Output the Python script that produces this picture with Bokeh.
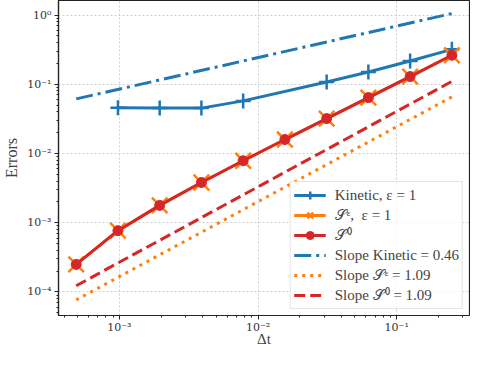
from bokeh.plotting import figure
from bokeh.models import (Range1d, LogTicker, CustomJSTickFormatter, Legend, LegendItem)
from bokeh.embed import file_html
from bokeh.resources import INLINE

# ---- data ----
dt_all = [0.25, 0.125, 0.0625, 0.03125, 0.015625, 0.0078125, 0.00390625,
          0.001953125, 0.0009765625, 0.00048828125]
dt_kinetic = [0.25, 0.125, 0.0625, 0.03125, 0.0078125, 0.00390625,
              0.001953125, 0.0009765625]
err_kinetic = [0.319, 0.217, 0.150, 0.108, 0.0575, 0.0452, 0.0455, 0.0456]
err_s_eps = [0.262, 0.129, 0.0641, 0.0319, 0.0159, 0.00785, 0.00381,
             0.00178, 0.000767, 0.000250]
err_s0 = [0.262, 0.129, 0.0641, 0.0319, 0.0159, 0.00785, 0.00381,
          0.00178, 0.000767, 0.000250]
slope_dt = [0.00048828125, 0.25]
slope_kinetic = [0.0614, 1.05]
slope_s_eps = [7.67e-5, 0.0656]
slope_s0 = [1.23e-4, 0.110]

labels = ["Kinetic, ε = 1", "𝒮ᵋ,  ε = 1", "𝒮⁰",
          "Slope Kinetic = 0.46", "Slope 𝒮ᵋ = 1.09", "Slope 𝒮⁰ = 1.09"]
x_label = "Δt"
y_label = "Errors"

BLUE = "#1f77b4"
ORANGE = "#ff7f0e"
RED = "#d62728"
FONT = "Liberation Serif"
TICK_FONT = "DejaVu Serif"

p = figure(width=470, height=349, x_axis_type="log", y_axis_type="log",
           x_range=Range1d(3.64e-4, 0.335), y_range=Range1d(4.57e-5, 1.62),
           output_backend="svg", toolbar_location=None,
           min_border_left=44, min_border_right=1, min_border_top=0,
           min_border_bottom=0)

fmt = CustomJSTickFormatter(code="""
const e = Math.round(Math.log10(tick));
const sup = {'-':'\u207b','0':'\u2070','1':'\u00b9','2':'\u00b2','3':'\u00b3','4':'\u2074','5':'\u2075','6':'\u2076','7':'\u2077','8':'\u2078','9':'\u2079'};
return '10' + String(e).split('').map(c => sup[c]).join('');
""")
for ax in (p.xaxis[0], p.yaxis[0]):
    ax.ticker = LogTicker(num_minor_ticks=10, desired_num_ticks=6)
    ax.formatter = fmt
    ax.major_label_text_font = TICK_FONT
    ax.major_label_text_font_size = "11px"
    ax.major_label_text_color = "#333333"
    ax.axis_label_text_font = FONT
    ax.axis_label_text_font_size = "16px"
    ax.axis_label_text_font_style = "normal"
    ax.axis_line_color = "#222222"
    ax.major_tick_line_color = "#222222"
    ax.minor_tick_line_color = "#222222"
    ax.major_tick_out = 4
    ax.major_tick_in = 0
    ax.minor_tick_out = 2
    ax.minor_tick_in = 0
    ax.axis_line_width = 1.2
p.xaxis.axis_label_text_font_size = "15px"
p.xaxis.axis_label = x_label
p.yaxis.axis_label = y_label
p.xaxis.axis_label_standoff = -6
p.yaxis.axis_label_standoff = 4
p.xaxis.major_label_standoff = 1
p.yaxis.major_label_standoff = 3

p.outline_line_color = "#222222"
p.outline_line_width = 1.2
for g in (p.xgrid[0], p.ygrid[0]):
    g.grid_line_color = "#c4c4c4"
    g.grid_line_dash = "2 2"
    g.grid_line_width = 0.8

# slope lines
r_sk = p.line(slope_dt, slope_kinetic, line_color=BLUE, line_width=3,
              line_dash="17 5 3 5")
r_se = p.line(slope_dt, slope_s_eps, line_color=ORANGE, line_width=3,
              line_dash="3 5")
r_s0 = p.line(slope_dt, slope_s0, line_color=RED, line_width=3,
              line_dash="11 5")

# data lines
rk_l = p.line(dt_kinetic, err_kinetic, line_color=BLUE, line_width=3)
rk_m = p.scatter(dt_kinetic, err_kinetic, marker="cross", size=15,
                 line_color=BLUE, line_width=2.5)
re_l = p.line(dt_all, err_s_eps, line_color=ORANGE, line_width=3)
re_m = p.scatter(dt_all, err_s_eps, marker="x", size=22,
                 line_color=ORANGE, line_width=2.5)
r0_l = p.line(dt_all, err_s0, line_color=RED, line_width=3)
r0_m = p.scatter(dt_all, err_s0, marker="circle", size=10,
                 fill_color=RED, line_color=RED)

legend = Legend(items=[
    LegendItem(label=labels[0], renderers=[rk_l, rk_m]),
    LegendItem(label=labels[1], renderers=[re_l, re_m]),
    LegendItem(label=labels[2], renderers=[r0_l, r0_m]),
    LegendItem(label=labels[3], renderers=[r_sk]),
    LegendItem(label=labels[4], renderers=[r_se]),
    LegendItem(label=labels[5], renderers=[r_s0]),
], location="bottom_right")
legend.label_text_font = FONT
legend.label_text_font_size = "15px"
legend.glyph_width = 32
legend.glyph_height = 20
legend.label_height = 20
legend.spacing = 0
legend.padding = 3
legend.margin = 6
legend.label_standoff = 9
legend.background_fill_alpha = 0.8
legend.border_line_color = "#cccccc"
legend.border_line_width = 1
p.add_layout(legend)

open("out.html", "w").write(file_html(p, INLINE))
